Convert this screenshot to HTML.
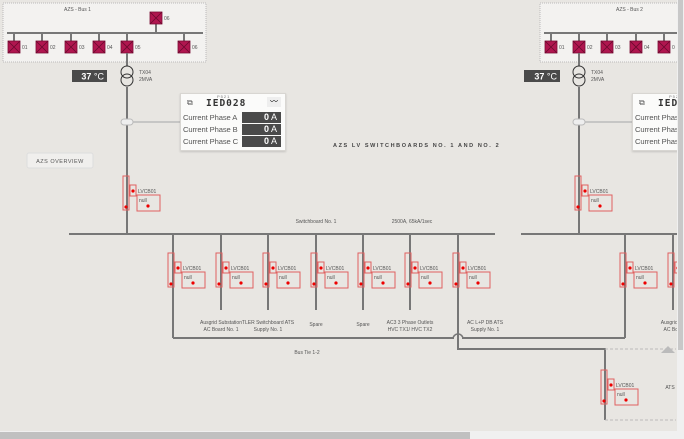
<!DOCTYPE html>
<html><head><meta charset="utf-8"><style>
body{margin:0;width:684px;height:439px;overflow:hidden;background:#e8e6e2;font-family:"Liberation Sans",sans-serif}
svg{position:absolute;left:0;top:0}
.card{position:absolute;background:#fbfbfa;border:1px solid #d8d6d2;box-shadow:0 1px 2px rgba(0,0,0,.15);font-family:"Liberation Sans",sans-serif;overflow:hidden}
.row{position:absolute;left:2px;font-size:7.6px;color:#555;white-space:nowrap;letter-spacing:-.1px}
.val{position:absolute;left:61px;width:39px;height:11px;background:#4a4a4a;color:#fff;font-size:9px;text-align:right;line-height:11px;box-sizing:border-box;padding-right:4px;font-weight:bold}
</style></head><body>
<svg width="684" height="439" font-family="Liberation Sans, sans-serif">
<defs>
<g id="brk">
 <rect x="-5" y="0" width="6" height="34" fill="none" stroke="#e06060" stroke-width="1"/>
 <rect x="2" y="9" width="6" height="11" fill="none" stroke="#e06060" stroke-width="1"/>
 <circle cx="5" cy="15" r="1.6" fill="#e00"/>
 <circle cx="-2" cy="31" r="1.6" fill="#e00"/>
 <text x="10" y="17" font-size="5" fill="#555">LVCB01</text>
 <rect x="9" y="19" width="23" height="16" fill="none" stroke="#e06060" stroke-width="1"/>
 <text x="11" y="26" font-size="5" fill="#555">null</text>
 <circle cx="20" cy="30" r="1.6" fill="#e00"/>
</g>
<g id="sq"><rect x="-6" y="0" width="12" height="12" fill="#b0164f" stroke="#7a0d35" stroke-width=".8"/><path d="M-6 0L6 12M6 0L-6 12" stroke="#6a0a2e" stroke-width=".8"/></g>
<g id="tx"><circle cx="0" cy="6" r="6" fill="none" stroke="#333" stroke-width="1"/><circle cx="0" cy="14" r="6" fill="none" stroke="#333" stroke-width="1"/></g>
</defs>
<rect x="3" y="3" width="203" height="59" fill="#f3f2f0" stroke="#bbb" stroke-dasharray="1,1"/>
<text x="64" y="11" font-size="5" fill="#555">AZS - Bus 1</text>
<g stroke="#777" stroke-width="2"><line x1="7" y1="33" x2="203" y2="33"/>
<line x1="14" y1="33" x2="14" y2="41"/><line x1="42" y1="33" x2="42" y2="41"/><line x1="71" y1="33" x2="71" y2="41"/><line x1="99" y1="33" x2="99" y2="41"/><line x1="127" y1="33" x2="127" y2="41"/><line x1="184" y1="33" x2="184" y2="41"/><line x1="156" y1="24" x2="156" y2="33"/></g>
<use href="#sq" x="14" y="41"/><use href="#sq" x="42" y="41"/><use href="#sq" x="71" y="41"/><use href="#sq" x="99" y="41"/><use href="#sq" x="127" y="41"/><use href="#sq" x="184" y="41"/><use href="#sq" x="156" y="12"/>
<g font-size="5" fill="#555"><text x="22" y="49">01</text><text x="50" y="49">02</text><text x="79" y="49">03</text><text x="107" y="49">04</text><text x="135" y="49">05</text><text x="192" y="49">06</text><text x="164" y="20">06</text></g>
<rect x="540" y="3" width="150" height="59" fill="#f3f2f0" stroke="#bbb" stroke-dasharray="1,1"/>
<text x="616" y="11" font-size="5" fill="#555">AZS - Bus 2</text>
<g stroke="#777" stroke-width="2"><line x1="544" y1="33" x2="684" y2="33"/>
<line x1="551" y1="33" x2="551" y2="41"/><line x1="579" y1="33" x2="579" y2="41"/><line x1="607" y1="33" x2="607" y2="41"/><line x1="636" y1="33" x2="636" y2="41"/><line x1="664" y1="33" x2="664" y2="41"/></g>
<use href="#sq" x="551" y="41"/><use href="#sq" x="579" y="41"/><use href="#sq" x="607" y="41"/><use href="#sq" x="636" y="41"/><use href="#sq" x="664" y="41"/>
<g font-size="5" fill="#555"><text x="559" y="49">01</text><text x="587" y="49">02</text><text x="615" y="49">03</text><text x="644" y="49">04</text><text x="672" y="49">0</text></g>
<g stroke="#777" stroke-width="2" fill="none">
<line x1="127" y1="53" x2="127" y2="66"/><line x1="127" y1="87" x2="127" y2="234"/>
<line x1="579" y1="53" x2="579" y2="66"/><line x1="579" y1="87" x2="579" y2="234"/>
<line x1="69" y1="234" x2="495" y2="234"/><line x1="521" y1="234" x2="677" y2="234"/>
<line x1="173" y1="234" x2="173" y2="338"/><line x1="221" y1="234" x2="221" y2="310"/><line x1="268" y1="234" x2="268" y2="310"/><line x1="316" y1="234" x2="316" y2="310"/><line x1="363" y1="234" x2="363" y2="310"/><line x1="410" y1="234" x2="410" y2="310"/>
<line x1="625" y1="234" x2="625" y2="338"/><line x1="673" y1="234" x2="673" y2="310"/>
<path d="M173 338H454M462 338H625"/>
<path d="M458 234V349H605V420"/>
</g>
<path d="M453 339a5 5 0 0 1 10 0" fill="none" stroke="#777" stroke-width="1.5"/>
<path d="M605 349H676M605 420H676" stroke="#bbb" stroke-dasharray="3,2" stroke-width="1"/>
<polygon points="661,353 675,353 668,346" fill="#bbb"/>
<line x1="133" y1="122" x2="180" y2="122" stroke="#bbb" stroke-width="1.5"/>
<line x1="585" y1="122" x2="632" y2="122" stroke="#bbb" stroke-width="1.5"/>
<rect x="121" y="119" width="12" height="6" rx="3" fill="#eee" stroke="#bbb"/>
<rect x="573" y="119" width="12" height="6" rx="3" fill="#eee" stroke="#bbb"/>
<use href="#tx" x="127" y="66"/><use href="#tx" x="579" y="66"/>
<g font-size="5" fill="#555"><text x="139" y="74">TX04</text><text x="139" y="81">2MVA</text><text x="591" y="74">TX04</text><text x="591" y="81">2MVA</text></g>
<rect x="72" y="70" width="35" height="12" fill="#4a4a4a"/><text x="104" y="79.5" font-size="9" fill="#fff" text-anchor="end" font-weight="bold">37 <tspan font-weight="normal">°C</tspan></text>
<rect x="524" y="70" width="36" height="12" fill="#4a4a4a"/><text x="557" y="79.5" font-size="9" fill="#fff" text-anchor="end" font-weight="bold">37 <tspan font-weight="normal">°C</tspan></text>
<use href="#brk" x="128" y="176"/><use href="#brk" x="580" y="176"/>
<use href="#brk" x="173" y="253"/><use href="#brk" x="221" y="253"/><use href="#brk" x="268" y="253"/><use href="#brk" x="316" y="253"/><use href="#brk" x="363" y="253"/><use href="#brk" x="410" y="253"/><use href="#brk" x="458" y="253"/><use href="#brk" x="625" y="253"/><use href="#brk" x="673" y="253"/>
<use href="#brk" x="606" y="370"/>
<g font-size="5" fill="#555" text-anchor="middle">
<text x="221" y="324">Ausgrid Substation</text><text x="221" y="331">AC Board No. 1</text>
<text x="268" y="324">TLER Switchboard ATS</text><text x="268" y="331">Supply No. 1</text>
<text x="316" y="326">Spare</text><text x="363" y="326">Spare</text>
<text x="410" y="324">AC3 3 Phase Outlets</text><text x="410" y="331">HVC TX1/ HVC TX2</text>
<text x="485" y="324">AC L+P DB ATS</text><text x="485" y="331">Supply No. 1</text>
<text x="673" y="324">Ausgrid Su</text><text x="673" y="331">AC Boar</text>
<text x="307" y="354">Bus Tie 1-2</text>
<text x="316" y="223">Switchboard No. 1</text>
<text x="412" y="223">2500A, 65kA/1sec</text>
<text x="670" y="389">ATS</text>
</g>
<text x="333" y="147" font-size="5.5" fill="#444" font-weight="bold" letter-spacing="1.6">AZS LV SWITCHBOARDS NO. 1 AND NO. 2</text>
<rect x="27" y="153" width="66" height="15" rx="2" fill="#f0efed" stroke="#ddd"/>
<text x="60" y="163" font-size="5.5" fill="#555" text-anchor="middle" letter-spacing=".5">AZS OVERVIEW</text>
<rect x="0" y="431" width="684" height="8" fill="#f0f0f0"/><rect x="0" y="432" width="470" height="7" fill="#c0c0c0"/>
</svg>
<div class="card" style="left:180px;top:93px;width:104px;height:56px">
 <div style="position:absolute;left:6px;top:4px;font-size:8px;color:#555">⧉</div>
 <div style="position:absolute;left:36px;top:0px;font-size:4px;color:#777;letter-spacing:1px">P521</div>
 <div style="position:absolute;left:25px;top:4px;font-size:9.5px;font-weight:bold;color:#333;letter-spacing:1px;font-family:'DejaVu Sans Mono',monospace">IED028</div>
 <div style="position:absolute;left:86px;top:3px;width:14px;height:10px;background:#eee;font-size:8px;text-align:center;line-height:10px">〰</div>
 <div class="row" style="top:19px">Current Phase A</div><div class="val" style="top:18px">0<span style="font-weight:normal"> A</span></div>
 <div class="row" style="top:31px">Current Phase B</div><div class="val" style="top:30px">0<span style="font-weight:normal"> A</span></div>
 <div class="row" style="top:43px">Current Phase C</div><div class="val" style="top:42px">0<span style="font-weight:normal"> A</span></div>
</div>
<div class="card" style="left:632px;top:93px;width:104px;height:56px">
 <div style="position:absolute;left:6px;top:4px;font-size:8px;color:#555">⧉</div>
 <div style="position:absolute;left:36px;top:0px;font-size:4px;color:#777;letter-spacing:1px">P521</div>
 <div style="position:absolute;left:25px;top:4px;font-size:9.5px;font-weight:bold;color:#333;letter-spacing:1px;font-family:'DejaVu Sans Mono',monospace">IED028</div>
 <div class="row" style="top:19px">Current Phase A</div>
 <div class="row" style="top:31px">Current Phase B</div>
 <div class="row" style="top:43px">Current Phase C</div>
</div>
<div style="position:absolute;left:677px;top:0;width:7px;height:431px;background:#f0f0f0"><div style="width:5px;margin-left:1px;height:350px;background:#c8c8c8"></div></div>
</body></html>
